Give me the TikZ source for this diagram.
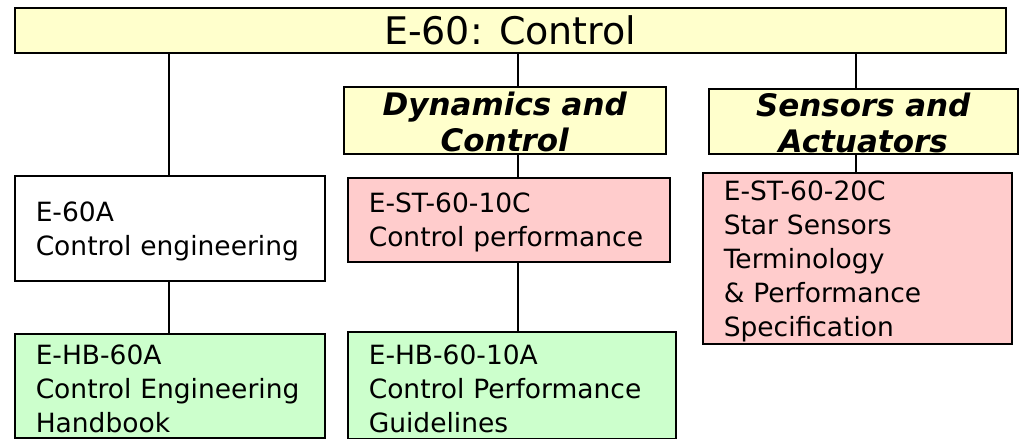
\documentclass[tikz,border=0pt]{standalone}
\usepackage{fontspec}
\setmainfont{DejaVu Sans}
\usepackage{tikz}

\definecolor{hdryellow}{HTML}{FFFFCC}
\definecolor{stdpink}{HTML}{FFCCCC}
\definecolor{hbgreen}{HTML}{CCFFCC}

\begin{document}
\begin{tikzpicture}[x=1pt, y=-1pt,
  every node/.style={inner sep=0pt},
  box/.style={draw=black, line width=1.5pt, anchor=north west, inner xsep=21pt, inner ysep=0pt, align=left, text height=26pt, font=\fontsize{26.5}{34}\selectfont},
  hdr/.style={draw=black, line width=1.5pt, fill=hdryellow, anchor=north west, inner xsep=2pt, inner ysep=0pt, align=center, text height=26pt, font=\fontsize{31}{36}\selectfont\bfseries\itshape},
  link/.style={line width=1.5pt}]
  \useasboundingbox (0,0) rectangle (1020,439);
  \node[draw=black, line width=1.5pt, fill=hdryellow, anchor=north west, minimum width=991pt, minimum height=45pt, font=\fontsize{38}{44}\selectfont] (e60) at (14,7) {E-60: Control};
  \node[hdr, minimum height=67pt, text width=318pt] (dyn) at (343,86) {Dynamics and\\Control};
  \node[hdr, minimum height=65pt, text width=305pt] (sens) at (708,88) {Sensors and\\Actuators};
  \node[box, minimum height=105pt, text width=268pt] (e60a) at (14,175) {E-60A\\Control engineering};
  \node[box, fill=stdpink, minimum height=84pt, text width=280pt] (st10) at (347,177) {E-ST-60-10C\\Control performance};
  \node[box, fill=stdpink, minimum height=171pt, text width=267pt] (st20) at (702,172) {E-ST-60-20C\\Star Sensors\\Terminology\\\& Performance\\Specification};
  \node[box, fill=hbgreen, minimum height=104pt, text width=268pt] (hb60) at (14,333) {E-HB-60A\\Control Engineering\\Handbook};
  \node[box, fill=hbgreen, minimum height=107pt, text width=286pt] (hb10) at (347,331) {E-HB-60-10A\\Control Performance\\Guidelines};
  \coordinate (colA) at (169,0);
  \coordinate (colB) at (518,0);
  \coordinate (colC) at (856,0);
  \draw[link] (e60.south -| colA) -- (e60a.north -| colA);
  \draw[link] (e60.south -| colB) -- (dyn.north -| colB);
  \draw[link] (e60.south -| colC) -- (sens.north -| colC);
  \draw[link] (dyn.south -| colB) -- (st10.north -| colB);
  \draw[link] (sens.south -| colC) -- (st20.north -| colC);
  \draw[link] (e60a.south -| colA) -- (hb60.north -| colA);
  \draw[link] (st10.south -| colB) -- (hb10.north -| colB);
\end{tikzpicture}
\end{document}
